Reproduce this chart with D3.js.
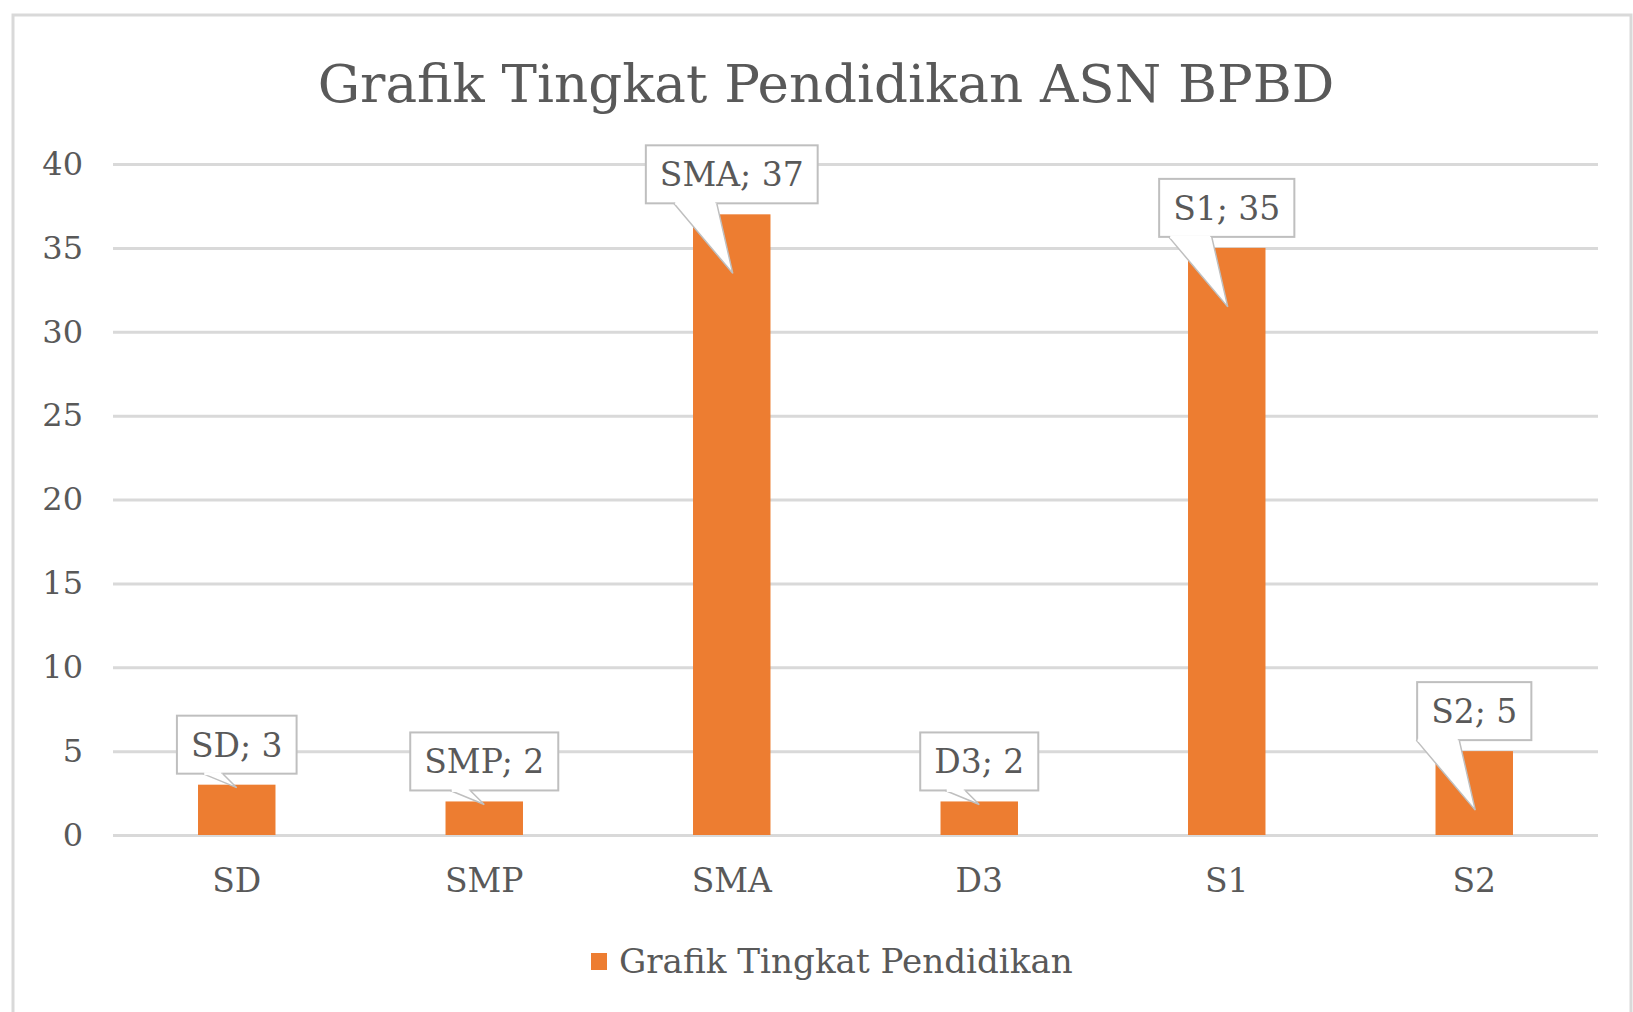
<!DOCTYPE html>
<html>
<head>
<meta charset="utf-8">
<script src="https://cdn.jsdelivr.net/npm/d3@7"></script>
<style>
    html, body { margin: 0; padding: 0; background: #fff; }
    #barChart { width: 1633px; height: 1012px; }
    text { font-family: 'DejaVu Serif', 'Liberation Serif', serif; fill: #595959; }
</style>
</head>
<body>
<div id="barChart"></div>
<script>
const chartTitle = 'Grafik Tingkat Pendidikan ASN BPBD';
const seriesName = 'Grafik Tingkat Pendidikan';
const categories = ['SD', 'SMP', 'SMA', 'D3', 'S1', 'S2'];
const values = [3, 2, 37, 2, 35, 5];
const yTicks = [0, 5, 10, 15, 20, 25, 30, 35, 40];

const site = {};

site.bar = (() => {
    const width = 1633;
    const height = 1012;
    const margin = { top: 164, left: 113, right: 35, bottom: 177 };
    const orange = '#ED7D31';

    // shrink or grow a text so that it spans the wanted width
    const fitText = (sel, size, want) => {
        sel.attr('font-size', size);
        const len = sel.node().getComputedTextLength();
        sel.attr('font-size', size * want / len);
    };

    const createBarChart = () => {
        const svg = d3.select('#barChart')
            .append('svg')
            .attr('width', width)
            .attr('height', height);

        // chart frame
        svg.append('rect')
            .attr('x', 13)
            .attr('y', 15)
            .attr('width', 1618)
            .attr('height', 1010)
            .attr('fill', '#fff')
            .attr('stroke', '#D9D9D9')
            .attr('stroke-width', 3);

        const x = d3.scaleBand()
            .domain(categories)
            .range([margin.left, width - margin.right])
            .paddingInner(0.687)
            .paddingOuter(0.3435);

        const y = d3.scaleLinear()
            .domain([0, 40])
            .range([height - margin.bottom, margin.top]);

        const title = svg.append('text')
            .attr('x', 826)
            .attr('y', 102)
            .attr('text-anchor', 'middle')
            .text(chartTitle);
        fitText(title, 56, 1017);

        // gridlines + y labels
        svg.append('g')
            .attr('transform', `translate(${margin.left},0)`)
            .call(
                d3.axisLeft(y)
                    .tickValues(yTicks)
                    .tickSize(-(width - margin.left - margin.right))
                    .tickPadding(30)
            )
            .call(g => g.select('.domain').remove())
            .call(g => g.selectAll('.tick line')
                .attr('stroke', '#D9D9D9')
                .attr('stroke-width', 3))
            .call(g => g.selectAll('.tick text')
                .attr('font-size', 32)
                .attr('font-family', null)
                .attr('fill', '#595959'));

        // bars
        svg.append('g')
            .attr('fill', orange)
            .selectAll('rect')
            .data(values)
            .join('rect')
            .attr('x', (d, i) => x(categories[i]))
            .attr('y', d => y(d))
            .attr('height', d => y(0) - y(d))
            .attr('width', x.bandwidth());

        // x labels
        svg.append('g')
            .attr('transform', `translate(0, ${y(0)})`)
            .call(
                d3.axisBottom(x)
                    .tickSize(0)
                    .tickPadding(34)
            )
            .call(g => g.select('.domain').remove())
            .call(g => g.selectAll('.tick text')
                .attr('font-size', 33)
                .attr('font-family', null)
                .attr('fill', '#595959'));

        // callout data labels
        const labels = svg.append('g')
            .selectAll('g')
            .data(values)
            .join('g');

        labels.each(function (d, i) {
            const g = d3.select(this);
            const cx = x(categories[i]) + x.bandwidth() / 2;
            const top = y(d);
            const bottom = top - 11;

            const txt = g.append('text')
                .attr('x', cx)
                .attr('y', bottom - 17)
                .attr('text-anchor', 'middle')
                .attr('font-size', 33)
                .text(`${categories[i]}; ${d}`);
            const w = txt.node().getComputedTextLength() + 28;
            const h = 58;

            const tall = y(0) - top > 60;
            const tail = tall
                ? [[cx - 58, bottom], [cx - 15, bottom], [cx + 1, bottom + 70]]
                : [[cx - 34, bottom], [cx - 14, bottom], [cx, top + 3]];

            g.insert('rect', 'text')
                .attr('x', cx - w / 2)
                .attr('y', bottom - h)
                .attr('width', w)
                .attr('height', h)
                .attr('fill', '#fff')
                .attr('stroke', '#BFBFBF')
                .attr('stroke-width', 2);

            g.insert('path', 'text')
                .attr('d', `M${tail[0]}L${tail[2]}L${tail[1]}`)
                .attr('fill', '#fff')
                .attr('stroke', '#BFBFBF')
                .attr('stroke-width', 1.5);

            // hide the box edge under the tail mouth
            g.insert('line', 'text')
                .attr('x1', tail[0][0] + 1.5)
                .attr('x2', tail[1][0] - 1.5)
                .attr('y1', bottom)
                .attr('y2', bottom)
                .attr('stroke', '#fff')
                .attr('stroke-width', 3);
        });

        // legend
        const legend = svg.append('g');
        legend.append('rect')
            .attr('x', 591)
            .attr('y', 953)
            .attr('width', 16)
            .attr('height', 17)
            .attr('fill', orange);
        const legendText = legend.append('text')
            .attr('x', 619)
            .attr('y', 973)
            .text(seriesName);
        fitText(legendText, 31, 454);
    };

    const init = () => {
        document.getElementById('barChart').innerHTML = '';
        createBarChart();
    };

    return {
        init
    };
})();

site.bar.init();
</script>
</body>
</html>
